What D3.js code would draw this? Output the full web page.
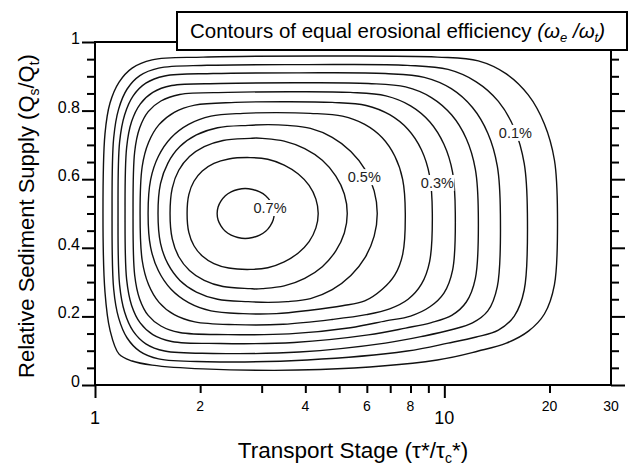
<!DOCTYPE html>
<html>
<head>
<meta charset="utf-8">
<script src="https://cdn.jsdelivr.net/npm/d3@7"></script>
<style>
  body { margin: 0; background: #fff; }
  svg { display: block; font-family: "Liberation Sans", Arial, Helvetica, sans-serif; }
</style>
</head>
<body>
<svg id="chart" width="631" height="465"></svg>
<script>
// each contour is a band: [tau*/tauc*, Qs/Qt on the upper branch, Qs/Qt on the lower branch]
const contour1 = [[1.054,.5,.5],[1.068,.732,.271],[1.104,.822,.160],[1.172,.883,.090],[1.277,.924,.070],[1.457,.948,.058],[2.039,.956,.047],[4.413,.959,.045],[9.549,.956,.073],[12.51,.945,.099],[15.05,.907,.122],[17.41,.845,.157],[19.34,.761,.207],[20.66,.656,.292],[21.08,.5,.5]];
const contour2 = [[1.119,.5,.5],[1.131,.720,.280],[1.169,.805,.195],[1.236,.863,.137],[1.344,.902,.098],[1.521,.924,.076],[2.094,.932,.068],[4.050,.934,.073],[7.833,.932,.099],[10.25,.920,.122],[12.34,.884,.140],[14.28,.827,.160],[15.86,.748,.201],[16.93,.646,.277],[17.29,.5,.5]];
const contour3 = [[1.164,.5,.5],[1.176,.708,.292],[1.216,.788,.212],[1.286,.843,.157],[1.398,.880,.120],[1.583,.901,.099],[2.178,.908,.092],[3.842,.910,.096],[6.775,.908,.122],[8.764,.897,.143],[10.47,.864,.161],[12.04,.809,.181],[13.32,.734,.216],[14.18,.638,.287],[14.47,.5,.5]];
const contour4 = [[1.219,.5,.5],[1.232,.693,.307],[1.273,.768,.232],[1.347,.819,.181],[1.464,.853,.147],[1.658,.873,.127],[2.282,.879,.121],[3.717,.881,.124],[6.057,.879,.146],[7.746,.869,.166],[9.184,.838,.182],[10.50,.787,.203],[11.56,.718,.242],[12.27,.629,.311],[12.51,.5,.5]];
const contour5 = [[1.285,.5,.5],[1.299,.680,.320],[1.342,.749,.251],[1.420,.797,.203],[1.544,.828,.172],[1.747,.847,.153],[2.405,.853,.147],[3.596,.855,.149],[5.380,.853,.167],[6.802,.843,.187],[8.006,.814,.201],[9.094,.767,.228],[9.974,.702,.268],[10.56,.620,.335],[10.75,.5,.5]];
const contour6 = [[1.346,.5,.5],[1.365,.637,.363],[1.423,.707,.293],[1.525,.759,.241],[1.686,.795,.205],[1.931,.816,.184],[2.519,.824,.176],[3.457,.826,.177],[4.776,.824,.191],[5.973,.815,.205],[6.975,.788,.222],[7.876,.745,.250],[8.598,.686,.294],[9.076,.610,.360],[9.239,.5,.5]];
const contour7 = [[1.419,.5,.5],[1.443,.599,.401],[1.519,.667,.333],[1.651,.721,.279],[1.853,.760,.240],[2.147,.784,.216],[2.655,.792,.208],[3.301,.794,.208],[4.131,.792,.218],[5.109,.784,.231],[5.918,.760,.245],[6.643,.721,.279],[7.218,.667,.321],[7.600,.599,.381],[7.731,.5,.5]];
const contour8 = [[1.515,.5,.5],[1.540,.587,.413],[1.617,.647,.353],[1.750,.695,.305],[1.951,.729,.271],[2.244,.750,.250],[2.744,.757,.243],[3.131,.759,.241],[3.549,.757,.243],[4.139,.748,.252],[4.776,.722,.278],[5.400,.681,.319],[5.934,.628,.372],[6.297,.566,.434],[6.427,.5,.5]];
const contour9 = [[1.640,.5,.5],[1.664,.574,.426],[1.737,.626,.374],[1.864,.666,.334],[2.054,.695,.305],[2.326,.713,.287],[2.781,.719,.281],[2.893,.720,.280],[3.010,.719,.281],[3.480,.711,.289],[3.984,.689,.311],[4.474,.655,.345],[4.891,.609,.391],[5.173,.557,.443],[5.274,.5,.5]];
const contour10 = [[1.835,.5,.5],[1.856,.555,.445],[1.920,.594,.406],[2.028,.624,.376],[2.190,.646,.354],[2.414,.659,.341],[2.781,.663,.337],[3.123,.658,.342],[3.480,.641,.359],[3.819,.615,.385],[4.101,.582,.418],[4.289,.542,.458],[4.355,.5,.5]];
const contour11 = [[2.237,.5,.5],[2.251,.519,.481],[2.293,.536,.464],[2.361,.552,.448],[2.453,.563,.437],[2.564,.570,.430],[2.690,.573,.427],[2.827,.570,.430],[2.961,.563,.437],[3.080,.552,.448],[3.175,.536,.464],[3.236,.519,.481],[3.258,.5,.5]];

const contours = [contour1, contour2, contour3, contour4, contour5, contour6, contour7, contour8, contour9, contour10, contour11];

const labelText = ["0.7%", "0.5%", "0.3%", "0.1%"];
const labelTau = [3.17, 5.90, 9.55, 15.97];
const labelQ = [0.516, 0.606, 0.589, 0.735];

const xBigTicks = [1, 10];
const xSmallTicks = [2, 3, 4, 5, 6, 7, 8, 9, 20];
const xBigLabels = [1, 10];
const xSmallLabels = [2, 4, 6, 8, 20, 30];
const yMajorTicks = [0, 0.2, 0.4, 0.6, 0.8, 1];
const yMinorTicks = [0.05, 0.1, 0.15, 0.25, 0.3, 0.35, 0.45, 0.5, 0.55, 0.65, 0.7, 0.75, 0.85, 0.9, 0.95];

const svg = d3.select("#chart");

const x = d3.scaleLog().domain([1, 30]).range([95, 611]);
const y = d3.scaleLinear().domain([0, 1]).range([385, 42]);

// contours: upper branch left->right then lower branch back
const line = d3.line()
  .x(d => x(d[0]))
  .y(d => y(d[1]))
  .curve(d3.curveCatmullRomClosed.alpha(0.5));

svg.append("g")
  .selectAll("path")
  .data(contours)
  .join("path")
  .attr("d", band => {
    let upper = band.map(r => [r[0], r[1]]);
    let lower = band.slice(1, -1).reverse().map(r => [r[0], r[2]]);
    return line(upper.concat(lower));
  })
  .attr("fill", "none")
  .attr("stroke", "#111")
  .attr("stroke-width", 1.4);

// contour labels, white behind them to cut the line
const lab = svg.append("g")
  .selectAll("g")
  .data(labelText)
  .join("g")
  .attr("transform", (d, i) => `translate(${x(labelTau[i])},${y(labelQ[i])})`);

lab.append("rect")
  .attr("x", -17).attr("y", -8)
  .attr("width", 34).attr("height", 16)
  .attr("fill", "#fff");

lab.append("text")
  .attr("text-anchor", "middle")
  .attr("dy", "0.36em")
  .attr("font-size", 14.5)
  .attr("fill", "#222")
  .text(d => d);

// frame
const frame = svg.append("g").attr("stroke", "#000").attr("stroke-width", 2);
frame.append("line").attr("x1", x(1)).attr("x2", x(1)).attr("y1", y(1) - 1).attr("y2", y(0) + 1);
frame.append("line").attr("x1", x(30)).attr("x2", x(30)).attr("y1", y(1)).attr("y2", y(0) + 1);
frame.append("line").attr("x1", x(1) - 1).attr("x2", x(30) + 1).attr("y1", y(0)).attr("y2", y(0));
frame.append("line").attr("x1", x(1) - 1).attr("x2", x(30)).attr("y1", y(1)).attr("y2", y(1));

// y axes (left and right)
function yTicks(axis, values, len) {
  let g = svg.append("g")
    .attr("transform", `translate(${axis === "left" ? x(1) : x(30)},0)`)
    .call((axis === "left" ? d3.axisLeft(y) : d3.axisRight(y)).tickValues(values).tickSize(len).tickFormat(""));
  g.select(".domain").remove();
  g.selectAll(".tick line").attr("stroke", "#000").attr("stroke-width", 2);
  return g;
}
yTicks("left", yMajorTicks, 13);
yTicks("left", yMinorTicks, 8);
yTicks("right", yMajorTicks, 14);
yTicks("right", yMinorTicks, 8);

svg.append("g")
  .selectAll("text")
  .data(yMajorTicks)
  .join("text")
  .attr("x", 80)
  .attr("y", d => y(d) + 2)
  .attr("text-anchor", "end")
  .attr("font-size", 16)
  .text(d => d3.format("")(d));

// x axis ticks
function xTicks(values, len) {
  let g = svg.append("g")
    .attr("transform", `translate(0,${y(0)})`)
    .call(d3.axisBottom(x).tickValues(values).tickSize(len).tickFormat(""));
  g.select(".domain").remove();
  g.selectAll(".tick line").attr("stroke", "#000").attr("stroke-width", 2);
}
xTicks(xBigTicks, 13);
xTicks(xSmallTicks, 8);

svg.append("g")
  .selectAll("text")
  .data(xSmallLabels)
  .join("text")
  .attr("x", d => x(d))
  .attr("y", 411)
  .attr("text-anchor", "middle")
  .attr("font-size", 14)
  .text(d => d);

svg.append("g")
  .selectAll("text")
  .data(xBigLabels)
  .join("text")
  .attr("x", d => x(d))
  .attr("y", 424)
  .attr("text-anchor", "middle")
  .attr("font-size", 18)
  .text(d => d);

// axis titles
const xt = svg.append("text")
  .attr("x", 353).attr("y", 458)
  .attr("text-anchor", "middle")
  .attr("font-size", 22.5);
xt.append("tspan").text("Transport Stage (τ*/τ");
xt.append("tspan").attr("font-size", 14).attr("dy", 5).text("c");
xt.append("tspan").attr("dy", -5).text("*)");

const yt = svg.append("text")
  .attr("transform", "translate(34,216) rotate(-90)")
  .attr("text-anchor", "middle")
  .attr("font-size", 22);
yt.append("tspan").text("Relative Sediment Supply (Q");
yt.append("tspan").attr("font-size", 14).attr("dy", 5).text("s");
yt.append("tspan").attr("dy", -5).text("/Q");
yt.append("tspan").attr("font-size", 14).attr("dy", 5).text("t");
yt.append("tspan").attr("dy", -5).text(")");

// title box
svg.append("rect")
  .attr("x", 177).attr("y", 12)
  .attr("width", 450).attr("height", 38)
  .attr("fill", "#fff")
  .attr("stroke", "#000")
  .attr("stroke-width", 2);

const tt = svg.append("text")
  .attr("x", 190).attr("y", 38)
  .attr("font-size", 20.5);
tt.append("tspan").text("Contours of equal erosional efficiency ");
tt.append("tspan").attr("font-style", "italic").text("(ω");
tt.append("tspan").attr("font-style", "italic").attr("font-size", 13).attr("dy", 4).text("e");
tt.append("tspan").attr("font-style", "italic").attr("dy", -4).text(" /ω");
tt.append("tspan").attr("font-style", "italic").attr("font-size", 13).attr("dy", 4).text("t");
tt.append("tspan").attr("font-style", "italic").attr("dy", -4).text(")");
</script>
</body>
</html>
